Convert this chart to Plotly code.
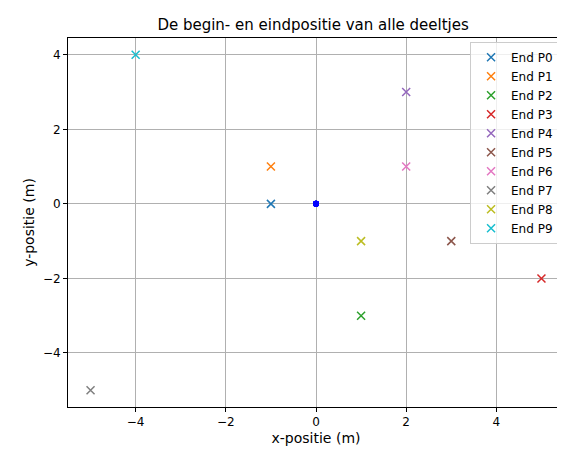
import plotly.graph_objects as go

labels = ["P0", "P1", "P2", "P3", "P4", "P5", "P6", "P7", "P8", "P9"]
end_x = [-1, -1, 1, 5, 2, 3, 2, -5, 1, -4]
end_y = [0, 1, -3, -2, 3, -1, 1, -5, -1, 4]
start_x = [0] * 10
start_y = [0] * 10
colors = ["#1f77b4", "#ff7f0e", "#2ca02c", "#d62728", "#9467bd",
          "#8c564b", "#e377c2", "#7f7f7f", "#bcbd22", "#17becf"]

fig = go.Figure()
fig.add_trace(go.Scatter(x=start_x, y=start_y, mode="markers", showlegend=False,
                         marker=dict(color="blue", size=6)))
for lab, x, y, c in zip(labels, end_x, end_y, colors):
    fig.add_trace(go.Scatter(x=[x], y=[y], mode="markers", name="End " + lab,
                             marker=dict(symbol="x-thin", size=8, line=dict(color=c, width=1.5))))

axis = dict(showgrid=True, gridcolor="#b0b0b0", gridwidth=1, zeroline=False,
            showline=True, linecolor="black", mirror=True, ticks="outside",
            ticklen=4, tickcolor="black", dtick=2, automargin=False)
fig.update_layout(
    width=565, height=453,
    margin=dict(l=60, r=9, t=30, b=54),
    plot_bgcolor="white", paper_bgcolor="white",
    font=dict(family="DejaVu Sans", size=12, color="black"),
    title=dict(text="De begin- en eindpositie van alle deeltjes", x=0.54, y=0.975,
               xanchor="center", font=dict(size=15), automargin=False),
    xaxis=dict(axis, range=[-5.5, 5.5], title=dict(text="x-positie (m)", standoff=4)),
    yaxis=dict(axis, range=[-5.45, 4.45], title=dict(text="y-positie (m)", standoff=4)),
    legend=dict(x=0.99, y=0.99, xanchor="right", yanchor="top", bgcolor="rgba(255,255,255,0.8)",
                bordercolor="#cccccc", borderwidth=1, font=dict(size=12), tracegroupgap=0),
)
fig.write_html("out.html")
